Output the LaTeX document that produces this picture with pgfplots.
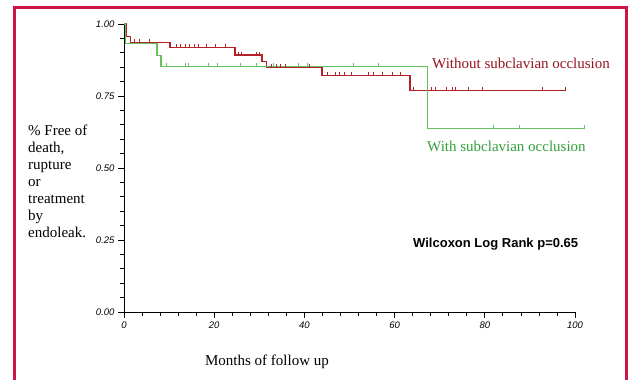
\documentclass[border=0pt]{standalone}
\usepackage{pgfplots}
\pgfplotsset{compat=1.18}
\usepackage{fontspec}
\setmainfont{Liberation Serif}
\newfontfamily\arial{Liberation Sans}
\definecolor{frame}{RGB}{204,20,70}
\definecolor{kmred}{RGB}{178,34,40}
\definecolor{kmgreen}{RGB}{100,195,90}
\definecolor{txtred}{RGB}{150,20,30}
\definecolor{txtgreen}{RGB}{50,160,60}
\begin{document}
\begin{tikzpicture}[x=1pt,y=1pt]
\useasboundingbox (0,0) rectangle (632,380);
\draw[frame, line width=3pt] (14,0) -- (14,372) -- (626,372) -- (626,0);
\begin{axis}[
  at={(124pt,68pt)}, anchor=south west,
  scale only axis, width=451pt, height=288pt,
  xmin=0, xmax=100, ymin=0, ymax=1,
  axis lines=left, axis line style={-, black, line width=0.8pt},
  clip=false,
  xtick={0,20,...,100}, minor x tick num=4,
  ytick={0,0.25,0.5,0.75,1}, minor y tick num=4,
  tick align=outside, major tick length=6pt, minor tick length=4pt,
  every tick/.style={black, line width=0.7pt},
  /pgf/number format/assume math mode=true,
  xticklabel style={font=\arial\itshape\fontsize{9.5}{10}\selectfont},
  yticklabel style={font=\arial\itshape\fontsize{9.5}{10}\selectfont,
    /pgf/number format/fixed, /pgf/number format/zerofill, /pgf/number format/precision=2},
]
\addplot[const plot, kmred, line width=1.3pt] coordinates {
 (0,1) (0.5,0.956) (1.5,0.935) (10.2,0.918) (24.6,0.892) (30.6,0.869) (31.6,0.849)
 (43.9,0.822) (63.4,0.768) (97.8,0.768)};
\addplot[const plot, kmgreen, line width=1.3pt] coordinates {
 (0,1) (0.4,0.933) (7.3,0.89) (8.2,0.853) (67.3,0.638) (102,0.638)};
\addplot[only marks, mark=|, mark size=2pt, kmred, mark options={line width=0.7pt, yshift=1.5pt}] coordinates {
 (2.4,0.935) (3.5,0.935) (5.6,0.935)
 (11.7,0.918) (12.6,0.918) (13.5,0.918) (14.5,0.918) (15.5,0.918) (16.5,0.918) (18.3,0.918) (20.2,0.918) (22.4,0.918)
 (25.3,0.892) (26.1,0.892) (29.4,0.892) (30.0,0.892)
 (32.7,0.849) (33.7,0.849) (34.6,0.849) (35.7,0.849) (38.6,0.849) (40.6,0.849) (41.2,0.849)
 (45,0.822) (46.9,0.822) (47.8,0.822) (48.8,0.822) (50.3,0.822) (54.1,0.822) (55.2,0.822) (57.2,0.822) (59.4,0.822) (61.2,0.822)
 (64.1,0.768) (68.2,0.768) (69,0.768) (71.4,0.768) (72.7,0.768) (73.4,0.768) (76.3,0.768) (79.5,0.768) (92.8,0.768) (97.8,0.768)};
\addplot[only marks, mark=|, mark size=2pt, kmgreen, mark options={line width=0.7pt, yshift=1.5pt}] coordinates {
 (9.5,0.853) (13.7,0.853) (14.3,0.853) (18.7,0.853) (20.7,0.853) (25.7,0.853) (29.4,0.853)
 (33.1,0.853) (38.6,0.853) (40.6,0.853) (50.8,0.853) (56.4,0.853)
 (81.8,0.638) (87.7,0.638) (102,0.638)};
\end{axis}
\node[anchor=west, inner sep=0, text=txtred, font=\fontsize{15}{17}\selectfont] at (432,317) {Without subclavian occlusion};
\node[anchor=west, inner sep=0, text=txtgreen, font=\fontsize{15}{17}\selectfont] at (427,234) {With subclavian occlusion};
\node[anchor=west, inner sep=0, font=\arial\bfseries\fontsize{13}{15}\selectfont] at (413,136) {Wilcoxon Log Rank p=0.65};
\node[inner sep=0, font=\fontsize{15}{17}\selectfont] at (267,18) {Months of follow up};
\node[anchor=north west, inner sep=0, align=left, font=\fontsize{15}{17}\selectfont] at (28,255)
 {\% Free of\\death,\\rupture\\or\\treatment\\by\\endoleak.};
\end{tikzpicture}
\end{document}
